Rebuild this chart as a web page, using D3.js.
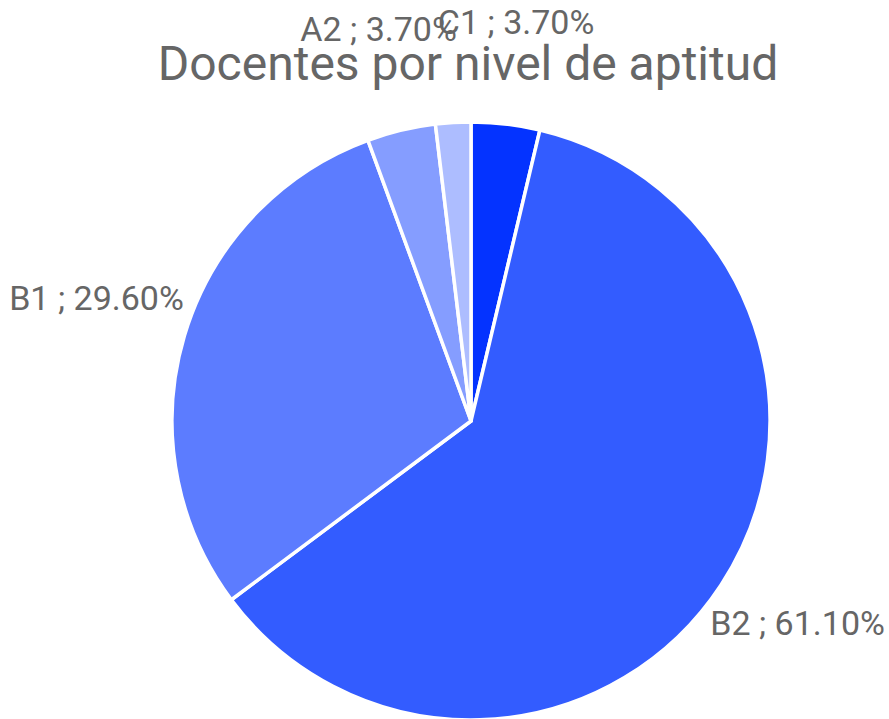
<!DOCTYPE html>
<html><head><meta charset="utf-8">
<script src="https://cdn.jsdelivr.net/npm/d3@7"></script>
<style>html,body{margin:0;padding:0;background:#fff;}svg{display:block;}</style>
</head><body>
<svg id="chart" width="889" height="719"></svg>
<script>
const categories = ["C1", "B2", "B1", "A2", "A1"];
const values = [3.70, 61.10, 29.60, 3.70, 1.90];
const labelShown = [true, true, true, true, false];
const colors = ["#0433ff", "#335cff", "#5c7cff", "#859dff", "#adbdff"];
const title = "Docentes por nivel de aptitud";

const W = 889, H = 719;
const cx = 471, cy = 421, r = 299;
const svg = d3.select("#chart");
const font = "Roboto, 'Open Sans', sans-serif";

const data = categories.map((c, i) => ({cat: c, value: values[i], color: colors[i], show: labelShown[i]}));
const pie = d3.pie().value(d => d.value).sort(null);
const arcs = pie(data);
const arc = d3.arc().innerRadius(0).outerRadius(r);

const g = svg.append("g").attr("transform", `translate(${cx},${cy})`);
g.selectAll("path").data(arcs).join("path")
  .attr("d", arc)
  .attr("fill", d => d.data.color)
  .attr("stroke", "#fff")
  .attr("stroke-width", 3.5)
  .attr("stroke-linejoin", "round");

svg.append("text")
  .attr("x", 468).attr("y", 80)
  .attr("text-anchor", "middle")
  .attr("font-family", font)
  .attr("font-size", 48)
  .attr("fill", "#666666")
  .text(title);

// label layout nudges (layout, not data)
const nudge = {C1: [-69, -92], B2: [-19, 32], B1: [9, -35], A2: [58, -91]};
const labelArc = d3.arc().innerRadius(r + 10).outerRadius(r + 10);
arcs.filter(d => d.data.show).forEach(d => {
  const mid = (d.startAngle + d.endAngle) / 2;
  const [x, y] = labelArc.centroid(d);
  const right = Math.sin(mid) >= 0;
  const n = nudge[d.data.cat] || [0, 0];
  g.append("text")
    .attr("x", x + n[0]).attr("y", y + n[1])
    .attr("dy", "0.35em")
    .attr("text-anchor", right ? "start" : "end")
    .attr("font-family", font)
    .attr("font-size", 34)
    .attr("fill", "#666666")
    .text(`${d.data.cat} ; ${d.data.value.toFixed(2)}%`);
});
</script>
</body></html>
